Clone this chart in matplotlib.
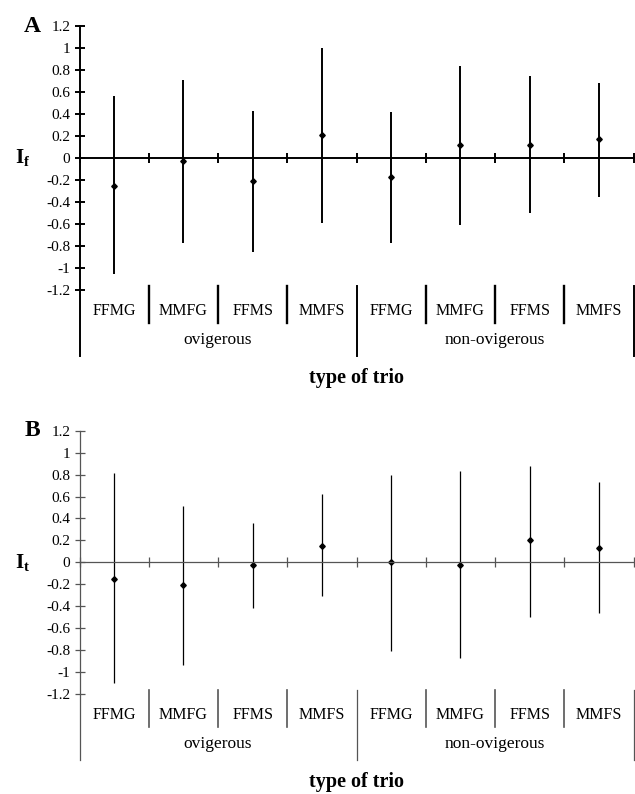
import numpy as np
import matplotlib
matplotlib.use('Agg')
import matplotlib.pyplot as plt

plt.rcParams['font.family'] = ['Liberation Serif', 'DejaVu Serif']
plt.rcParams['axes.unicode_minus'] = False
plt.rcParams['mathtext.fontset'] = 'custom'
plt.rcParams['mathtext.bf'] = 'Liberation Serif:bold'
plt.rcParams['mathtext.rm'] = 'Liberation Serif'

# 数据
categories = ['FFMG', 'MMFG', 'FFMS', 'MMFS', 'FFMG', 'MMFG', 'FFMS', 'MMFS']
groups = ['ovigerous', 'non-ovigerous']
yticks = [1.2, 1, 0.8, 0.6, 0.4, 0.2, 0, -0.2, -0.4, -0.6, -0.8, -1, -1.2]
ytick_labels = ['1.2', '1', '0.8', '0.6', '0.4', '0.2', '0', '-0.2', '-0.4', '-0.6', '-0.8', '-1', '-1.2']

# A: I_f
a_mean = [-0.25, -0.03, -0.21, 0.21, -0.17, 0.12, 0.12, 0.17]
a_high = [0.56, 0.71, 0.43, 1.00, 0.42, 0.84, 0.75, 0.68]
a_low = [-1.05, -0.77, -0.85, -0.59, -0.77, -0.61, -0.50, -0.35]

# B: I_t
b_mean = [-0.15, -0.21, -0.02, 0.15, 0.00, -0.02, 0.20, 0.13]
b_high = [0.81, 0.51, 0.36, 0.62, 0.80, 0.83, 0.88, 0.73]
b_low = [-1.10, -0.94, -0.42, -0.31, -0.81, -0.87, -0.50, -0.46]

fig = plt.figure(figsize=(6.35, 7.94), dpi=100)
W, H = 635.0, 794.0
left = 79.5 / W
width = (633.5 - 79.5) / W


def draw_panel(ax, mean, high, low, ylabel, letter, lw, axcol):
    x = np.arange(len(categories)) + 0.5
    ax.vlines(x, low, high, color='black', lw=lw)
    ax.plot(x, mean, 'D', color='black', ms=2.8)
    ax.set_xlim(0, 8)
    ax.set_ylim(-1.2, 1.2)
    for s in ['top', 'right']:
        ax.spines[s].set_visible(False)
    ax.spines['bottom'].set_position(('data', 0))
    ax.spines['bottom'].set_color(axcol)
    ax.spines['left'].set_color(axcol)
    ax.spines['bottom'].set_linewidth(lw)
    ax.spines['left'].set_linewidth(lw)
    ax.set_xticks(range(9))
    ax.set_xticklabels([])
    ax.set_yticks(yticks)
    ax.set_yticklabels(ytick_labels)
    ax.tick_params(axis='both', direction='inout', length=7, width=lw, color=axcol,
                   labelsize=11, pad=3)
    tr = ax.get_xaxis_transform()
    # 分隔线
    for i in range(1, 8):
        if i == 4:
            continue
        ax.plot([i, i], [0.015, -0.124], color=axcol, lw=lw + 0.3, transform=tr, clip_on=False)
    for i in [0, 4, 8]:
        ax.plot([i, i], [0.015 if i else 0, -0.25], color=axcol, lw=lw, transform=tr, clip_on=False)
    for i, c in enumerate(categories):
        ax.text(i + 0.5, -0.078, c, transform=tr, ha='center', va='center', fontsize=11.5)
    for i, g in enumerate(groups):
        ax.text(2 + 4 * i, -0.19, g, transform=tr, ha='center', va='center', fontsize=12.5)
    ax.text(4, -0.335, 'type of trio', transform=tr, ha='center', va='center',
            fontsize=14.5, fontweight='bold')
    ax.text(-0.103, 0.5, ylabel, transform=ax.transAxes, ha='center', va='center', fontsize=15)
    ax.text(-0.085, 1.0, letter, transform=ax.transAxes, ha='center', va='center',
            fontsize=17, fontweight='bold')


axA = fig.add_axes([left, 1 - 290 / H, width, 264 / H])
draw_panel(axA, a_mean, a_high, a_low, r'$\mathbf{I_f}$', 'A', 1.4, 'black')

axB = fig.add_axes([left, 1 - 694 / H, width, 263.3 / H])
draw_panel(axB, b_mean, b_high, b_low, r'$\mathbf{I_t}$', 'B', 0.9, '#555555')

plt.savefig('out.png', dpi=100)
